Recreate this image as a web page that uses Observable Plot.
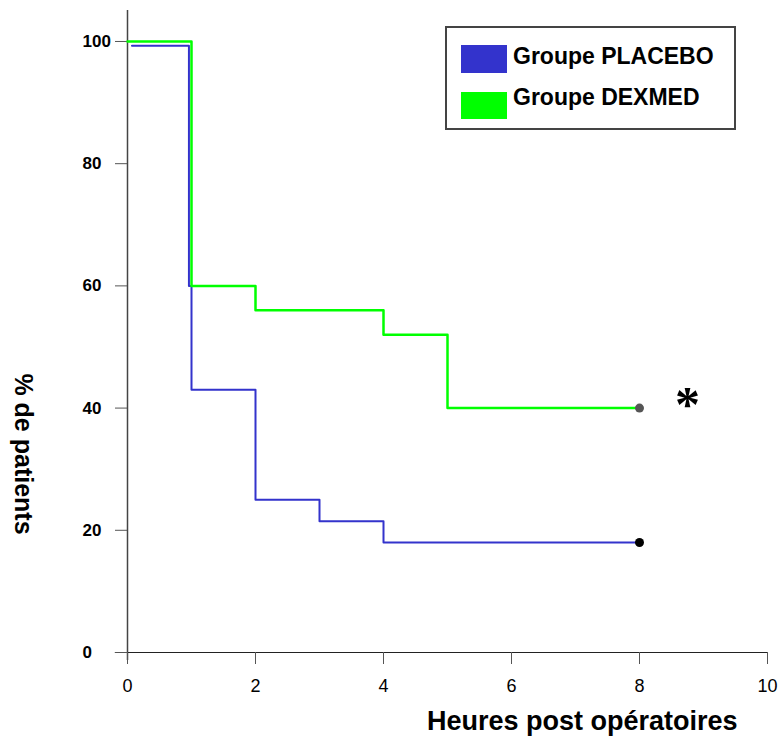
<!DOCTYPE html>
<html><head><meta charset="utf-8">
<script src="https://cdn.jsdelivr.net/npm/d3@7"></script>
<script src="https://cdn.jsdelivr.net/npm/@observablehq/plot@0.6"></script>
<style>
body{margin:0;background:#fff;font-family:"Liberation Sans",Arial,sans-serif;}
#wrap{position:relative;width:778px;height:737px;overflow:hidden;}
.abs{position:absolute;white-space:nowrap;line-height:1;}
#legend{position:absolute;left:445px;top:26px;width:287px;height:100px;border:2px solid #444;background:#fff;}
.sw{position:absolute;width:46px;}
.lt{position:absolute;font-weight:bold;font-size:23px;line-height:1;white-space:nowrap;color:#000;}
</style></head><body><div id="wrap"></div>
<script>
// Data
const groups = ["Groupe PLACEBO", "Groupe DEXMED"];
const groupColors = ["#3333cc", "#00ff00"];
const placeboHours = [0.07, 0.96, 1, 2, 3, 4, 8];
const placeboPct   = [99.3, 60, 43, 25, 21.5, 18, 18];
const dexmedHours  = [0, 1, 2, 4, 5, 8];
const dexmedPct    = [100, 60, 56, 52, 40, 40];
const xTicks = [0, 2, 4, 6, 8, 10];
const yTicks = [0, 20, 40, 60, 80, 100];
const signifHour = [8.75];
const signifPct = [40];

const placebo = placeboHours.map((h, i) => ({h, p: placeboPct[i]}));
const dexmed = dexmedHours.map((h, i) => ({h, p: dexmedPct[i]}));
const ends = [
  {h: placeboHours.at(-1), p: placeboPct.at(-1), c: "#000"},
  {h: dexmedHours.at(-1), p: dexmedPct.at(-1), c: "#555"}
];
const signif = signifHour.map((h, i) => ({h, p: signifPct[i]}));

const chart = Plot.plot({
  width: 778, height: 737,
  marginLeft: 127, marginRight: 11, marginTop: 10, marginBottom: 85,
  x: {domain: [0, 10]},
  y: {domain: [0, 105.07]},
  style: {fontFamily: "Liberation Sans, Arial, sans-serif", background: "#fff", color: "#000"},
  marks: [
    Plot.ruleX([0], {y1: -1.3, y2: 105.07, stroke: "#444", strokeWidth: 1.5}),
    Plot.ruleY([0], {x1: -0.19, x2: 10, stroke: "#222", strokeWidth: 1.2}),
    Plot.axisY({ticks: yTicks, tickSize: 12, text: null, stroke: "#555", label: null}),
    Plot.axisY({ticks: yTicks, tickSize: 0, tickPadding: 0, textAnchor: "start", dx: -45,
      fontSize: 17, fontWeight: "bold", fill: "#000", label: null}),
    Plot.axisX({ticks: xTicks, tickSize: 12, tickPadding: 15, fontSize: 18,
      fontFamily: "Liberation Sans Narrow, Arial Narrow, sans-serif", stroke: "#555", fill: "#000", label: null}),
    Plot.line(placebo, {x: "h", y: "p", curve: "step-after", stroke: groupColors[0], strokeWidth: 2}),
    Plot.line(dexmed, {x: "h", y: "p", curve: "step-after", stroke: groupColors[1], strokeWidth: 2.5}),
    Plot.dot(ends, {x: "h", y: "p", r: 4.5, fill: "c", stroke: null}),
    Plot.text(signif, {x: "h", y: "p", text: () => "*", fontSize: 50, fontWeight: "bold",
      fontFamily: "Liberation Serif, Times New Roman, serif", fill: "#000", dy: -3})
  ]
});
const wrap = document.getElementById("wrap");
wrap.appendChild(chart);

// Legend
const legend = document.createElement("div");
legend.id = "legend";
const swTops = [17, 64], swH = [28, 27], txtTops = [16.5, 57.5];
groups.forEach((g, i) => {
  const sw = document.createElement("div");
  sw.className = "sw";
  sw.style.left = "14px"; sw.style.top = swTops[i] + "px"; sw.style.height = swH[i] + "px";
  sw.style.background = groupColors[i];
  legend.appendChild(sw);
  const t = document.createElement("div");
  t.className = "lt";
  t.style.left = "66px"; t.style.top = txtTops[i] + "px";
  t.textContent = g;
  legend.appendChild(t);
});
wrap.appendChild(legend);

const xl = document.createElement("div");
xl.className = "abs";
xl.style.cssText += "left:427px;top:708px;font-size:27px;font-weight:bold;";
xl.textContent = "Heures post opératoires";
wrap.appendChild(xl);

const yl = document.createElement("div");
yl.className = "abs";
yl.style.cssText += "left:23px;top:454px;font-size:25px;font-weight:bold;transform:translate(-50%,-50%) rotate(90deg);";
yl.textContent = "% de patients";
wrap.appendChild(yl);
</script></body></html>
